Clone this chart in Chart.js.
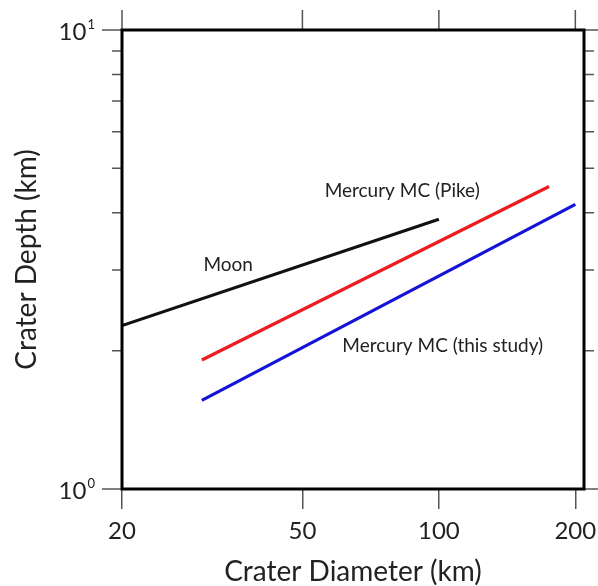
<!DOCTYPE html>
<html>
<head>
<meta charset="utf-8">
<script src="https://cdn.jsdelivr.net/npm/chart.js@4.4.1/dist/chart.umd.min.js"></script>
<style>
  html, body { margin: 0; padding: 0; background: #fff; }
  canvas { display: block; }
</style>
</head>
<body>
<canvas id="depthChart" width="598" height="586"></canvas>
<script>
// data (log-log)
const moonX = [20, 100];
const moonY = [2.27, 3.87];
const pikeX = [30, 175];
const pikeY = [1.91, 4.56];
const studyX = [30, 200];
const studyY = [1.56, 4.17];

const xTicks = [20, 50, 100, 200];
const yMajor = [1, 10];
const yMinor = [2, 3, 4, 5, 6, 7, 8, 9];

const FONT = "Lato, 'Open Sans', sans-serif";

function pts(xs, ys) {
    return xs.map((x, i) => ({ x: x, y: ys[i] }));
}

// frame, extra ticks, y labels and annotations
const framePlugin = {
    id: "framePlugin",
    afterDraw(chart) {
        const ctx = chart.ctx;
        const a = chart.chartArea;
        const xs = chart.scales.x;
        const ys = chart.scales.y;
        ctx.save();

        // ticks
        ctx.strokeStyle = "#555";
        ctx.lineWidth = 1.5;
        ctx.beginPath();
        xTicks.forEach(v => {
            const px = xs.getPixelForValue(v);
            ctx.moveTo(px, a.top);
            ctx.lineTo(px, a.top - 20);
        });
        yMajor.forEach(v => {
            const py = ys.getPixelForValue(v);
            ctx.moveTo(a.left, py);
            ctx.lineTo(a.left - 20, py);
            ctx.moveTo(a.right, py);
            ctx.lineTo(a.right + 16, py);
        });
        yMinor.forEach(v => {
            const py = ys.getPixelForValue(v);
            ctx.moveTo(a.left, py);
            ctx.lineTo(a.left - 10, py);
            ctx.moveTo(a.right, py);
            ctx.lineTo(a.right + 10, py);
        });
        ctx.stroke();

        // frame
        ctx.strokeStyle = "#000";
        ctx.lineWidth = 3;
        ctx.strokeRect(a.left, a.top, a.right - a.left, a.bottom - a.top);

        // y labels 10^0, 10^1
        ctx.fillStyle = "#222";
        ctx.textBaseline = "middle";
        yMajor.forEach(v => {
            const py = ys.getPixelForValue(v) + 2;
            const exp = String(Math.round(Math.log10(v)));
            ctx.font = "13px " + FONT;
            ctx.textAlign = "right";
            ctx.fillText(exp, a.left - 27, py - 7);
            const ew = ctx.measureText(exp).width;
            ctx.font = "24px " + FONT;
            ctx.fillText("10", a.left - 28 - ew, py);
        });

        // annotations
        ctx.font = "19px " + FONT;
        ctx.textAlign = "center";
        ctx.fillStyle = "#222";
        const notes = [["Moon", 34.3, 3.08], ["Mercury MC (Pike)", 83, 4.46], ["Mercury MC (this study)", 102, 2.05]];
        notes.forEach(n => {
            ctx.fillText(n[0], xs.getPixelForValue(n[1]), ys.getPixelForValue(n[2]));
        });
        ctx.restore();
    }
};

const ctx = document.getElementById("depthChart").getContext("2d");
new Chart(ctx, {
    type: "line",
    data: {
        datasets: [
            { label: "Moon", data: pts(moonX, moonY), borderColor: "#111", borderWidth: 3.2 },
            { label: "Mercury MC (Pike)", data: pts(pikeX, pikeY), borderColor: "#ee1c1c", borderWidth: 3.2 },
            { label: "Mercury MC (this study)", data: pts(studyX, studyY), borderColor: "#1414d8", borderWidth: 3.2 }
        ]
    },
    options: {
        responsive: false,
        animation: false,
        elements: { point: { radius: 0 }, line: { tension: 0 } },
        layout: { padding: { top: 30, right: 14, left: 0, bottom: 0 } },
        plugins: { legend: { display: false }, tooltip: { enabled: false } },
        scales: {
            x: {
                type: "logarithmic",
                min: 20,
                max: 209,
                position: "bottom",
                border: { display: false },
                grid: { drawOnChartArea: false, tickLength: 20, color: "#555", lineWidth: 1.5 },
                afterBuildTicks: s => { s.ticks = xTicks.map(v => ({ value: v })); },
                afterFit: s => { s.height = 97; s.paddingLeft = 0; s.paddingRight = 0; },
                ticks: {
                    autoSkip: false,
                    maxRotation: 0,
                    padding: 8,
                    color: "#222",
                    font: { family: FONT, size: 24 },
                    callback: v => String(v)
                },
                title: {
                    display: true,
                    text: "Crater Diameter (km)",
                    color: "#222",
                    font: { family: FONT, size: 28, lineHeight: 1 },
                    padding: { top: 0, bottom: 0 }
                }
            },
            y: {
                type: "logarithmic",
                min: 1,
                max: 10,
                border: { display: false },
                grid: { display: false, drawTicks: false },
                ticks: { display: false },
                afterFit: s => { s.width = 122; },
                title: {
                    display: true,
                    text: "Crater Depth (km)",
                    color: "#222",
                    font: { family: FONT, size: 28, lineHeight: 1 },
                    padding: { top: 13, bottom: 0 }
                }
            }
        }
    },
    plugins: [framePlugin]
});
</script>
</body>
</html>
